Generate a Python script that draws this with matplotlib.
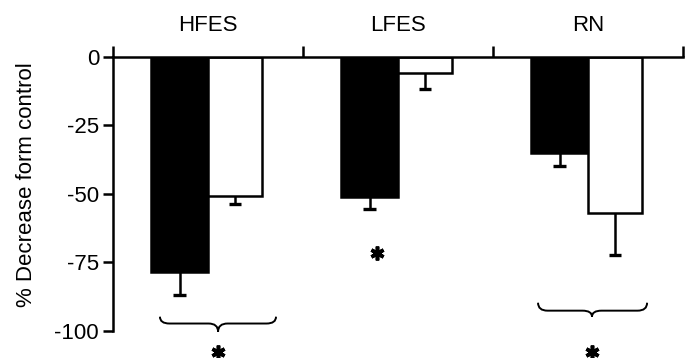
import matplotlib

matplotlib.use("Agg")
import matplotlib.pyplot as plt
from matplotlib.path import Path
from matplotlib.patches import PathPatch

plt.rcParams["font.family"] = ["Liberation Sans", "DejaVu Sans"]
plt.rcParams["axes.unicode_minus"] = False

GROUPS = ["HFES", "LFES", "RN"]
BLACK_MEAN = [-78.5, -51.0, -35.0]
BLACK_ERR = [8.4, 4.5, 4.8]
WHITE_MEAN = [-50.7, -5.8, -57.0]
WHITE_ERR = [2.9, 5.9, 15.3]
Y_TICKS = [0, -25, -50, -75, -100]

# significance annotations: braces (x0, x1, tip x, end y, line y, tip y) and stars
BRACES = [
    (-0.253, 0.358, 0.053, -94.9, -97.4, -100.4),
    (1.737, 2.311, 2.021, -89.8, -92.7, -94.9),
]
STARS_X = [0.053, 0.889, 2.021]
STARS_Y = [-107.7, -71.5, -107.7]

BW_BLACK = 0.30
BW_WHITE = 0.285
LW = 1.8


def brace_path(x0, x1, xm, y_end, y_line, y_tip, r=0.05):
    verts = [
        (x0, y_end), (x0, y_line), (x0 + r, y_line),
        (xm - r, y_line),
        (xm, y_line), (xm, y_tip),
        (xm, y_line), (xm + r, y_line),
        (x1 - r, y_line),
        (x1, y_line), (x1, y_end),
    ]
    codes = [
        Path.MOVETO, Path.CURVE3, Path.CURVE3,
        Path.LINETO,
        Path.CURVE3, Path.CURVE3,
        Path.CURVE3, Path.CURVE3,
        Path.LINETO,
        Path.CURVE3, Path.CURVE3,
    ]
    return Path(verts, codes)


fig = plt.figure(figsize=(6.91, 3.58), dpi=100)
ax = fig.add_axes([113 / 691, 0.0, 570 / 691, 301 / 358])

xs = list(range(len(GROUPS)))
xb = [x - BW_BLACK / 2 for x in xs]
xw = [x + BW_WHITE / 2 for x in xs]

ax.bar(xb, BLACK_MEAN, BW_BLACK, color="black", edgecolor="black", lw=LW, zorder=2)
ax.bar(xw, WHITE_MEAN, BW_WHITE, color="white", edgecolor="black", lw=LW, zorder=2)

cap = 0.032
for centers, means, errs in [(xb, BLACK_MEAN, BLACK_ERR), (xw, WHITE_MEAN, WHITE_ERR)]:
    lows = [m - e for m, e in zip(means, errs)]
    ax.vlines(centers, means, lows, color="black", lw=LW, zorder=3)
    ax.hlines(lows, [c - cap for c in centers], [c + cap for c in centers],
              color="black", lw=2.4, zorder=3)

for x0, x1, xm, ye, yl, yt in BRACES:
    ax.add_patch(PathPatch(brace_path(x0, x1, xm, ye, yl, yt), fill=False,
                           lw=1.4, edgecolor="black", clip_on=False))

ax.plot(STARS_X, STARS_Y, ls="none", marker=(6, 2, 0), ms=10, mew=2.6,
        color="black", clip_on=False)

ax.set_xlim(-0.5, 2.5)
ax.set_ylim(-110, 0)

ax.xaxis.set_ticks_position("top")
ax.set_xticks([-0.5, 0.5, 1.5, 2.5], [])
ax.set_xticks(xs, GROUPS, minor=True)
ax.tick_params(axis="x", which="major", direction="out", length=8, width=LW)
ax.tick_params(axis="x", which="minor", length=0, pad=15, labelsize=16)

ax.set_yticks(Y_TICKS)
ax.tick_params(axis="y", direction="out", length=7, width=LW, labelsize=16, pad=3)
ax.set_ylabel("% Decrease form control", fontsize=16)
ax.yaxis.set_label_coords(-0.133, 0.575)

ax.spines[["bottom", "right"]].set_visible(False)
ax.spines["top"].set_linewidth(LW)
ax.spines["left"].set_linewidth(LW)
ax.spines["left"].set_bounds(-100, 0)

fig.savefig("out.png", dpi=100)
